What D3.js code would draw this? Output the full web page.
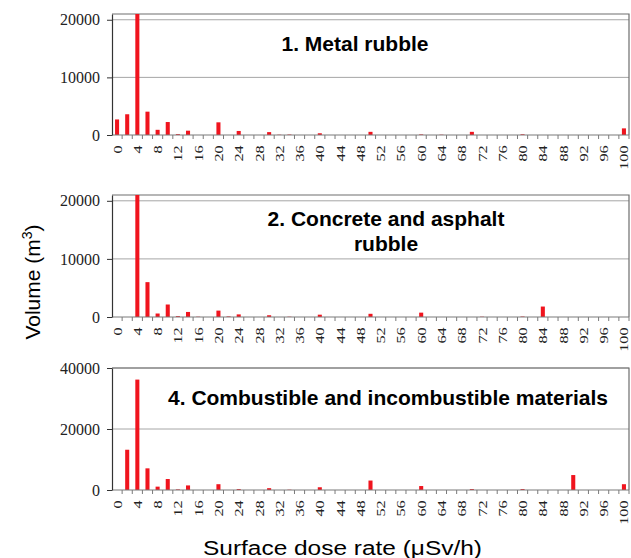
<!DOCTYPE html>
<meta charset="utf-8">
<style>
body { margin: 0; background: #fff; }
.bar { fill: #f0141e; }
.grid line { stroke: #a6a6a6; stroke-width: 1; }
.frame { fill: none; stroke: #6e6e6e; stroke-width: 1.2; }
.title { font-family: "Liberation Sans", Arial, sans-serif; font-weight: bold; font-size: 21px; fill: #000; }
.yaxis text { font-family: "Liberation Serif", "Times New Roman", serif; font-size: 16px; fill: #222; }
.xaxis text { font-family: "Liberation Serif", "Times New Roman", serif; font-size: 12.5px; fill: #222; }
</style>
<body>
<script src="https://d3js.org/d3.v7.min.js"></script>
<script>

// dose rate categories (uSv/h) and the labelled ones
var doseRates = [0, 2, 4, 6, 8, 10, 12, 14, 16, 18, 20, 22, 24, 26, 28, 30, 32, 34, 36, 38,
                 40, 42, 44, 46, 48, 50, 52, 54, 56, 58, 60, 62, 64, 66, 68, 70, 72, 74, 76, 78,
                 80, 82, 84, 86, 88, 90, 92, 94, 96, 98, 100];
var xLabels = [0, 4, 8, 12, 16, 20, 24, 28, 32, 36, 40, 44, 48, 52, 56, 60, 64, 68, 72, 76,
               80, 84, 88, 92, 96, 100];

// volumes (m3), one value per category
var metalRubble = [2700, 3600, 21500, 4050, 900, 2250, 150, 750, 0, 0, 2200, 0, 700, 0, 0, 500, 50, 80, 0, 0,
                   300, 0, 0, 0, 0, 550, 0, 0, 0, 0, 100, 0, 50, 0, 0, 550, 0, 0, 0, 0,
                   120, 0, 0, 0, 0, 0, 0, 0, 0, 0, 1150];
var concreteRubble = [0, 0, 21500, 6000, 600, 2150, 150, 870, 50, 0, 1100, 100, 450, 0, 0, 300, 0, 50, 0, 0,
                      400, 0, 0, 0, 0, 550, 0, 0, 0, 0, 750, 0, 0, 0, 0, 0, 50, 0, 0, 0,
                      80, 0, 1800, 0, 0, 0, 0, 0, 0, 0, 0];
var combustibles = [0, 13200, 36200, 7100, 1100, 3600, 200, 1500, 0, 0, 1900, 0, 300, 0, 0, 600, 0, 100, 0, 0,
                    900, 0, 0, 0, 0, 3100, 0, 0, 0, 0, 1300, 0, 0, 0, 0, 300, 0, 0, 0, 0,
                    300, 0, 0, 0, 0, 4900, 0, 0, 0, 0, 1900];

var titles = [["1. Metal rubble"], ["2. Concrete and asphalt", "rubble"],
              ["4. Combustible and incombustible materials"]];
var yTicks = [[0, 10000, 20000], [0, 10000, 20000], [0, 20000, 40000]];
var yMax = [21000, 21000, 40000];

// panel layout (pixels)
var layout = [
  {top: 14, bottom: 135, tx: 355, ty: 51},
  {top: 195, bottom: 317, tx: 386, ty: 225.5},
  {top: 368, bottom: 490, tx: 388, ty: 405}
];
var series = [metalRubble, concreteRubble, combustibles];
var left = 112, right = 629;

var svg = d3.select("body").append("svg")
    .attr("width", 631)
    .attr("height", 558);

var x = d3.scaleBand()
    .domain(doseRates)
    .range([left, right])
    .paddingInner(0.6)
    .paddingOuter(0.3);

series.forEach(function(vals, i) {
  var L = layout[i];
  var y = d3.scaleLinear()
      .domain([0, yMax[i]])
      .range([L.bottom, L.top])
      .clamp(true);

  var g = svg.append("g");

  // gridlines
  g.append("g").attr("class", "grid")
    .selectAll("line")
    .data(yTicks[i].filter(function(d) { return d > 0; }))
    .enter().append("line")
      .attr("x1", left).attr("x2", right)
      .attr("y1", function(d) { return y(d); })
      .attr("y2", function(d) { return y(d); });

  // top and right frame
  g.append("path").attr("class", "frame")
    .attr("d", "M" + left + "," + L.top + "H" + right + "V" + L.bottom);

  // bars
  g.selectAll(".bar")
      .data(vals.map(function(v, k) { return {c: doseRates[k], v: v}; }))
    .enter().append("rect")
      .attr("class", "bar")
      .attr("x", function(d) { return x(d.c); })
      .attr("width", x.bandwidth())
      .attr("y", function(d) { return y(d.v); })
      .attr("height", function(d) { return L.bottom - y(d.v); });

  // x axis line + tick marks between categories
  var step = x.step();
  g.append("line")
    .attr("x1", left).attr("x2", right)
    .attr("y1", L.bottom).attr("y2", L.bottom)
    .attr("stroke", "#7a7a7a").attr("stroke-width", 1.2);
  g.append("g")
    .selectAll("line")
    .data(doseRates)
    .enter().append("line")
      .attr("x1", function(d) { return x(d) + x.bandwidth() / 2 + step / 2; })
      .attr("x2", function(d) { return x(d) + x.bandwidth() / 2 + step / 2; })
      .attr("y1", L.bottom).attr("y2", L.bottom + 4)
      .attr("stroke", "#7a7a7a");

  // x labels
  g.append("g")
      .attr("class", "xaxis")
      .attr("transform", "translate(0," + L.bottom + ")")
      .call(d3.axisBottom(x).tickValues(xLabels).tickSize(0))
      .call(function(a) { a.select(".domain").remove(); })
    .selectAll("text")
      .attr("y", 0)
      .attr("x", -8)
      .attr("dy", "0.36em")
      .style("text-anchor", "end")
      .attr("transform", "rotate(-90) scale(1.3,1)");

  // y axis
  g.append("g")
      .attr("class", "yaxis")
      .attr("transform", "translate(" + left + ",0)")
      .call(d3.axisLeft(y).tickValues(yTicks[i]).tickSize(5).tickSizeOuter(0)
            .tickPadding(7).tickFormat(d3.format("d")))
      .call(function(a) {
        a.select(".domain").attr("stroke", "#333").attr("stroke-width", 1.2);
        a.selectAll(".tick line").attr("stroke", "#333");
      });

  // panel title
  g.append("text")
      .attr("class", "title")
      .attr("text-anchor", "middle")
      .attr("x", L.tx)
      .attr("y", L.ty)
    .selectAll("tspan")
    .data(titles[i])
    .enter().append("tspan")
      .attr("x", L.tx)
      .attr("dy", function(d, k) { return k === 0 ? 0 : 25; })
      .text(function(d) { return d; });
});

// axis titles
var yt = svg.append("text")
    .attr("transform", "translate(40,282) rotate(-90)")
    .attr("text-anchor", "middle")
    .style("font-family", "'Liberation Sans', Arial, sans-serif")
    .style("font-size", "21px");
yt.append("tspan").text("Volume (m");
yt.append("tspan").attr("dy", -8).style("font-size", "14px").text("3");
yt.append("tspan").attr("dy", 8).text(")");

svg.append("text")
    .attr("x", 203)
    .attr("y", 555)
    .attr("textLength", 279)
    .attr("lengthAdjust", "spacingAndGlyphs")
    .style("font-family", "'Liberation Sans', Arial, sans-serif")
    .style("font-size", "20px")
    .text("Surface dose rate  (\u03bcSv/h)");

</script>
</body>
